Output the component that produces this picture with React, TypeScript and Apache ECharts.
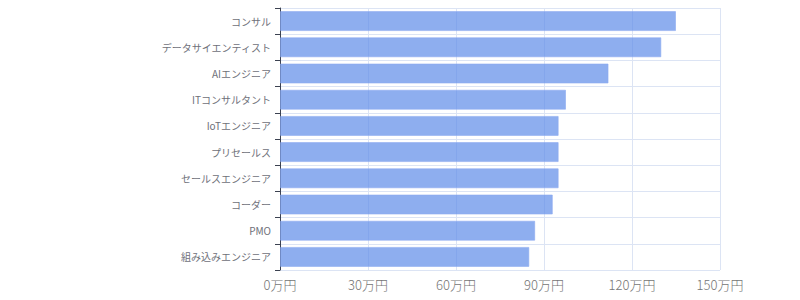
import React, { useEffect, useRef } from "react";
import * as echarts from "echarts";

const categories = [
  "コンサル",
  "データサイエンティスト",
  "AIエンジニア",
  "ITコンサルタント",
  "IoTエンジニア",
  "プリセールス",
  "セールスエンジニア",
  "コーダー",
  "PMO",
  "組み込みエンジニア",
];
const values = [135, 130, 112, 97.5, 95, 95, 95, 93, 87, 85];

export default function App() {
  const ref = useRef<HTMLDivElement>(null);
  useEffect(() => {
    if (!ref.current) return;
    const chart = echarts.init(ref.current, undefined, { renderer: "svg" });
    chart.setOption({
      animation: false,
      textStyle: { fontFamily: "'Noto Sans CJK JP', 'Noto Sans', sans-serif" },
      grid: { left: 280, right: 80, top: 8, bottom: 30 },
      xAxis: {
        type: "value",
        min: 0,
        max: 150,
        interval: 30,
        axisLine: { show: false },
        axisTick: { show: false },
        axisLabel: {
          formatter: (v: number) => v + "万円",
          color: "#747474",
          fontSize: 13,
          fontWeight: 300,
          margin: 8,
        },
        splitLine: { show: true, lineStyle: { color: "#dce4f4", width: 1 } },
      },
      yAxis: {
        type: "category",
        data: categories,
        inverse: true,
        axisLine: { show: true, lineStyle: { color: "#3c4250", width: 1 } },
        axisTick: { show: true, length: 5, lineStyle: { color: "#3c4250" } },
        axisLabel: { color: "#6e7079", fontSize: 10, margin: 9 },
        splitLine: { show: true, lineStyle: { color: "#dce4f4", width: 1 } },
      },
      series: [
        {
          type: "bar",
          data: values,
          barWidth: 20,
          itemStyle: {
            color: "rgba(94,139,232,0.7)",
            borderColor: "rgba(140,170,240,0.6)",
            borderWidth: 1,
          },
        },
      ],
    });
    return () => chart.dispose();
  }, []);
  return <div ref={ref} style={{ width: 800, height: 300, position: "absolute", left: 0, top: 0 }} />;
}
